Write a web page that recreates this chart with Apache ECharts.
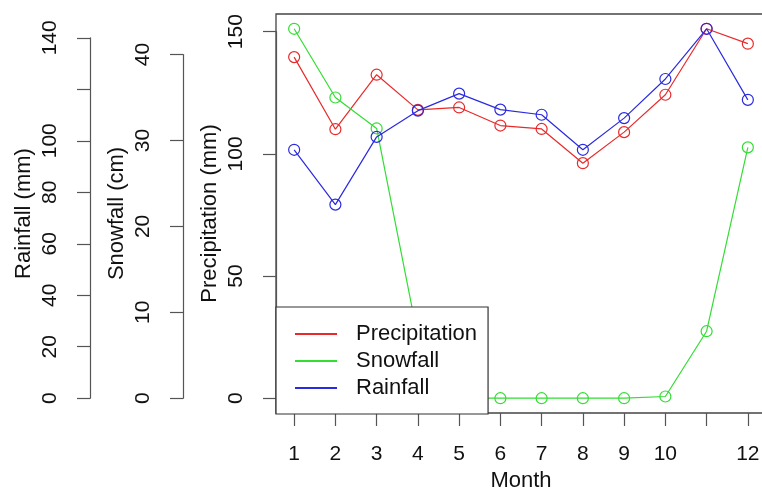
<!DOCTYPE html>
<html>
<head>
<meta charset="utf-8">
<script src="https://cdn.jsdelivr.net/npm/echarts@6/dist/echarts.min.js"></script>
<style>html,body{margin:0;padding:0;background:#fff}#c{width:762px;height:491px}</style>
</head>
<body>
<div id="c"></div>
<script>
// ---- data ----
const months = [1, 2, 3, 4, 5, 6, 7, 8, 9, 10, 11, 12];
const monthLabels = [1, 2, 3, 4, 5, 6, 7, 8, 9, 10, 12];
const precipitation = [139.6, 110.1, 132.4, 118.0, 119.0, 111.6, 110.2, 96.2, 108.9, 124.2, 151.2, 145.1];
const snowfall = [43.0, 35.0, 31.4, 7.1, 0.0, 0.0, 0.0, 0.0, 0.0, 0.2, 7.8, 29.2];
const rainfall = [96.5, 75.2, 101.5, 111.7, 118.3, 112.1, 110.1, 96.5, 108.8, 124.0, 143.5, 115.9];
const precipTicks = [0, 50, 100, 150];
const snowTicks = [0, 10, 20, 30, 40];
const rainTicks = [0, 20, 40, 60, 80, 100, 120, 140];
const rainTickLabels = [0, 20, 40, 60, 80, 100, 140];
const seriesNames = ['Precipitation', 'Snowfall', 'Rainfall'];
const colors = ['#e82a2a', '#33dd33', '#2a2ae0'];

// ---- layout ----
const FONT = 'Liberation Sans, Arial, sans-serif';
const FS = 21, FS_T = 22;
const boxLeft = 276, boxTop = 14, boxW = 490, boxH = 399;
const ext = 0.04;
function range(arr) { const M = Math.max(...arr); return [-ext * M, M + ext * M]; }
const xSpan = months[months.length - 1] - months[0];
const xr = [months[0] - ext * xSpan, months[months.length - 1] + ext * xSpan];
const pr = range(precipitation), sr = range(snowfall), rr = range(rainfall);
function px(v, r) { return boxTop + (r[1] - v) / (r[1] - r[0]) * boxH; }
const axisX = { p: boxLeft, s: 183, r: 90 };

function decoGrid(x, r, ticks) {
  const t = px(ticks[ticks.length - 1], r), b = px(ticks[0], r);
  return { left: x, top: t, width: 1, height: b - t, show: false, outerBoundsMode: 'none', containLabel: false };
}
const grids = [
  { left: boxLeft, top: boxTop, width: boxW, height: boxH, show: true, borderColor: '#444', borderWidth: 1.3,
    backgroundColor: 'transparent', outerBoundsMode: 'none', containLabel: false },
  decoGrid(axisX.p, pr, precipTicks),
  decoGrid(axisX.s, sr, snowTicks),
  decoGrid(axisX.r, rr, rainTicks)
];

const hiddenX = (i) => ({ type: 'value', gridIndex: i, show: false, min: 0, max: 1 });
const labelStyle = { color: '#111', fontSize: FS, fontFamily: FONT };
const titleStyle = { color: '#111', fontSize: FS_T, fontFamily: FONT };

function decoY(gi, ticks, labels) {
  return {
    type: 'value', gridIndex: gi, position: 'left',
    min: ticks[0], max: ticks[ticks.length - 1], interval: ticks[1] - ticks[0],
    axisLine: { show: true, onZero: false, lineStyle: { color: '#555', width: 1.2 } },
    axisTick: { show: true, length: 13, lineStyle: { color: '#555', width: 1.2 } },
    axisLabel: Object.assign({ show: true, rotate: 90, margin: 29, customValues: labels }, labelStyle),
    splitLine: { show: false }
  };
}
function dataY(r, name, offset) {
  return {
    type: 'value', gridIndex: 0, position: 'left', offset: offset,
    min: r[0], max: r[1],
    name: name, nameLocation: 'middle', nameGap: 55, nameRotate: 90,
    nameTextStyle: titleStyle,
    axisLine: { show: false, onZero: false }, axisTick: { show: false }, axisLabel: { show: false },
    splitLine: { show: false }
  };
}

const option = {
  animation: false,
  backgroundColor: '#fff',
  textStyle: { fontFamily: FONT },
  grid: grids,
  xAxis: [
    {
      type: 'value', gridIndex: 0, position: 'bottom', min: xr[0], max: xr[1],
      name: 'Month', nameLocation: 'middle', nameGap: 56, nameTextStyle: titleStyle,
      axisLine: { show: false, onZero: false },
      axisTick: { show: true, length: 13, customValues: months, lineStyle: { color: '#555', width: 1.2 } },
      axisLabel: Object.assign({ show: true, margin: 31, customValues: monthLabels }, labelStyle),
      splitLine: { show: false }
    },
    hiddenX(1), hiddenX(2), hiddenX(3)
  ],
  yAxis: [
    dataY(pr, 'Precipitation (mm)', 0),
    dataY(sr, 'Snowfall (cm)', boxLeft - axisX.s),
    dataY(rr, 'Rainfall (mm)', boxLeft - axisX.r),
    decoY(1, precipTicks, precipTicks),
    decoY(2, snowTicks, snowTicks),
    decoY(3, rainTicks, rainTickLabels)
  ],
  legend: {
    orient: 'vertical', left: boxLeft, top: 307,
    padding: [16, 11, 15, 19],
    itemWidth: 42, itemHeight: 2, itemGap: 5, icon: 'rect',
    backgroundColor: '#fff', borderColor: '#333', borderWidth: 1.2, borderRadius: 0,
    textStyle: { color: '#111', fontSize: FS_T, fontFamily: FONT, lineHeight: 22, padding: [0, 0, 0, 14] },
    data: seriesNames.map((n, i) => ({ name: n, itemStyle: { color: colors[i], borderWidth: 0 } }))
  },
  series: [precipitation, snowfall, rainfall].map((arr, i) => ({
    type: 'line', name: seriesNames[i], xAxisIndex: 0, yAxisIndex: i,
    data: months.map((m, k) => [m, arr[k]]),
    symbol: 'circle', symbolSize: 11,
    itemStyle: { color: 'rgba(0,0,0,0)', borderColor: colors[i], borderWidth: 1.2 },
    lineStyle: { color: colors[i], width: 1.2 },
    emphasis: { disabled: true }
  }))
};

const chart = echarts.init(document.getElementById('c'), null, { renderer: 'canvas' });
chart.setOption(option);
</script>
</body>
</html>
